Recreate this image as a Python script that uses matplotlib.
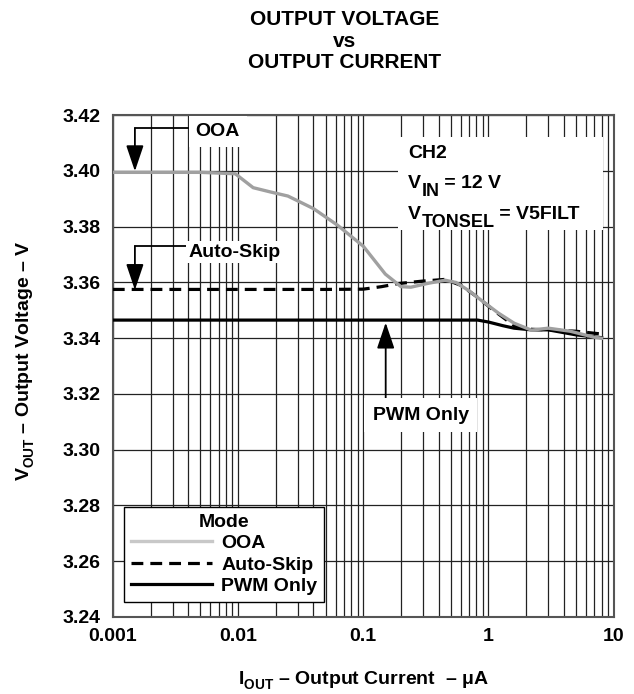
import numpy as np
import matplotlib.pyplot as plt
import matplotlib._mathtext as mathtext_internal
from matplotlib.patches import Rectangle
from matplotlib.ticker import LogLocator, NullFormatter, FixedLocator

# drop subscripts a bit lower, like the datasheet lettering
mathtext_internal.FontConstantsBase.sub1 = 0.5

plt.rcParams['font.family'] = ['Liberation Sans', 'DejaVu Sans']
plt.rcParams['font.weight'] = 'bold'
plt.rcParams['axes.labelweight'] = 'bold'
plt.rcParams['mathtext.fontset'] = 'custom'
plt.rcParams['mathtext.rm'] = 'Liberation Sans:bold'
plt.rcParams['mathtext.it'] = 'Liberation Sans:bold'
plt.rcParams['mathtext.bf'] = 'Liberation Sans:bold'

# --- data ---
ooa_x = [0.001, 0.005, 0.0095, 0.0132, 0.018, 0.025, 0.04, 0.062, 0.1, 0.15,
         0.2, 0.24, 0.33, 0.45, 0.55, 0.7, 0.87, 1.2, 1.6, 2.2, 3.0, 4.5, 6.9, 8.0]
ooa_y = [3.3995, 3.3995, 3.399, 3.394, 3.3925, 3.391, 3.3865, 3.3806, 3.373, 3.363,
         3.3585, 3.3583, 3.3597, 3.3608, 3.3600, 3.357, 3.3537, 3.349, 3.3454, 3.3429,
         3.3436, 3.3425, 3.3404, 3.340]

skip_x = [0.001, 0.05, 0.1, 0.14, 0.19, 0.3, 0.45, 0.6, 0.8, 1.1, 1.6, 2.2, 3.0, 5.0, 8.0]
skip_y = [3.3575, 3.3575, 3.3576, 3.3585, 3.3596, 3.3605, 3.3611, 3.359, 3.355, 3.350,
          3.3445, 3.3432, 3.343, 3.3425, 3.3415]

pwm_x = [0.001, 0.1, 0.5, 0.82, 1.0, 1.3, 1.6, 2.2, 3.0, 5.0, 8.0]
pwm_y = [3.3465, 3.3465, 3.3465, 3.3465, 3.3458, 3.3445, 3.3436, 3.343, 3.343, 3.3412, 3.3402]

x_ticks = [0.001, 0.01, 0.1, 1, 10]
x_tick_labels = ['0.001', '0.01', '0.1', '1', '10']
y_ticks = np.arange(3.24, 3.421, 0.02)
title_lines = ['OUTPUT VOLTAGE', 'vs', 'OUTPUT CURRENT']
# (main, subscript, rest) for the test-condition block
cond_lines = [('CH2', None, None), ('V', 'IN', ' = 12 V'), ('V', 'TONSEL', ' = V5FILT')]

fig = plt.figure(figsize=(6.34, 6.94), dpi=100)
ax = fig.add_axes([0.178, 0.111, 0.790, 0.723])

ax.set_xscale('log')
ax.set_xlim(0.001, 10)
ax.set_ylim(3.24, 3.42)

# grid: every log minor line, every 0.02 V
ax.xaxis.set_major_locator(FixedLocator(x_ticks))
ax.set_xticklabels(x_tick_labels)
ax.xaxis.set_minor_locator(LogLocator(base=10, subs=np.arange(2, 10)))
ax.xaxis.set_minor_formatter(NullFormatter())
ax.set_yticks(y_ticks)
ax.set_yticklabels([f'{v:.2f}' for v in y_ticks])
ax.grid(True, which='both', axis='x', color='#222222', linewidth=0.9)
ax.grid(True, which='major', axis='y', color='#222222', linewidth=0.9)
ax.tick_params(which='both', length=0, labelsize=14)
ax.tick_params(axis='y', pad=9)
ax.tick_params(axis='x', pad=8)
for s in ax.spines.values():
    s.set_color('#555555')
    s.set_linewidth(1.5)

ax.plot(ooa_x, ooa_y, color='#a0a0a0', linewidth=2.4, label='OOA', zorder=4)
ax.plot(skip_x, skip_y, color='black', linewidth=2.3, linestyle=(0, (3.7, 2.2)),
        label='Auto-Skip', zorder=3)
ax.plot(pwm_x, pwm_y, color='black', linewidth=2.3, label='PWM Only', zorder=3)

# white panel with test conditions, big subscripts built from pieces
ax.add_patch(Rectangle((0.569, 0.771), 0.409, 0.185, transform=ax.transAxes,
                       facecolor='white', edgecolor='none', zorder=2))
for (main, sub, rest), yb in zip(cond_lines, [0.914, 0.855, 0.793]):
    t0 = ax.text(0.589, yb, main, transform=ax.transAxes, ha='left', va='baseline',
                 fontsize=14, zorder=3)
    if sub is None:
        continue
    t1 = ax.annotate(sub, xy=(1, 0), xycoords=t0, xytext=(0.3, -3),
                     textcoords='offset points', fontsize=13, va='baseline', zorder=3)
    ax.annotate(rest, xy=(1, 0), xycoords=(t1, t0), va='bottom', fontsize=14, zorder=3)

# callouts
arrow = dict(arrowstyle='-|>,head_width=0.54,head_length=1.6', color='black',
             linewidth=1.3, shrinkA=0, shrinkB=0, mutation_scale=10)

ax.plot([0.0015, 0.004], [3.4153, 3.4153], color='black', linewidth=1.3, zorder=5)
ax.annotate('', xy=(0.0015, 3.3999), xytext=(0.0015, 3.4153), arrowprops=arrow, zorder=5)
ax.text(0.0069, 3.4143, 'OOA', ha='center', va='center', fontsize=14,
        bbox=dict(facecolor='white', edgecolor='none', pad=5), zorder=5)

ax.plot([0.0015, 0.004], [3.373, 3.373], color='black', linewidth=1.3, zorder=5)
ax.annotate('', xy=(0.0015, 3.3573), xytext=(0.0015, 3.373), arrowprops=arrow, zorder=5)
ax.text(0.0094, 3.3709, 'Auto-Skip', ha='center', va='center', fontsize=14,
        bbox=dict(facecolor='white', edgecolor='none', pad=2), zorder=5)

ax.annotate('', xy=(0.151, 3.3456), xytext=(0.151, 3.3167), arrowprops=arrow, zorder=5)
ax.text(0.288, 3.3124, 'PWM Only', ha='center', va='center', fontsize=14,
        bbox=dict(facecolor='white', edgecolor='none', pad=6), zorder=5)

leg = ax.legend(loc='lower left', bbox_to_anchor=(0.022, 0.030), borderaxespad=0,
                title='Mode', fontsize=14, title_fontsize=14, handlelength=4.2,
                handletextpad=0.45, labelspacing=0.2, borderpad=0.35,
                fancybox=False, framealpha=1, edgecolor='black')
leg.get_frame().set_linewidth(1.0)
leg.get_title().set_fontweight('bold')
leg.get_lines()[0].set_color('#c8c8c8')
leg.set_zorder(6)

ax.set_ylabel('V$_{OUT}$ – Output Voltage – V', fontsize=14)
ax.yaxis.set_label_coords(-0.154, 0.51)
ax.set_xlabel('I$_{OUT}$ – Output Current  – μA', fontsize=14)
ax.xaxis.set_label_coords(0.5, -0.104)

for txt, yb in zip(title_lines, [25, 47, 68]):
    fig.text(0.544, 1 - yb / 694, txt, ha='center', va='baseline', fontsize=15)

plt.savefig('out.png', dpi=100)
